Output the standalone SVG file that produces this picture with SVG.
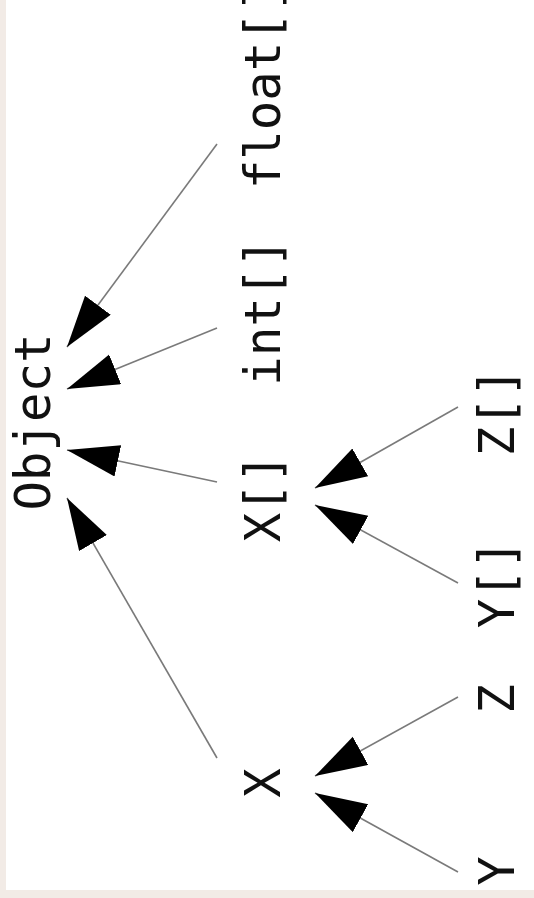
<svg xmlns="http://www.w3.org/2000/svg" width="534" height="898" viewBox="0 0 534 898">
<defs>
<style>
.lbl{font-family:"DejaVu Sans Mono","Liberation Mono",monospace;font-size:49px;fill:#111;text-anchor:middle}
.edge{stroke:#7a7a7a;stroke-width:1.6;fill:none;marker-end:url(#ah)}
</style>
<marker id="ah" markerUnits="userSpaceOnUse" markerWidth="54" markerHeight="34" refX="52" refY="16" orient="auto" viewBox="0 0 54 34">
<path d="M0,0 L52,16 L0,32 z" fill="#000"/>
</marker>
</defs>
<rect x="0" y="0" width="534" height="898" fill="#f2ebe6"/>
<rect x="6" y="0" width="528" height="890" fill="#fff"/>
<g id="connectors">
<line class="edge" x1="217" y1="144" x2="67" y2="347"/>
<line class="edge" x1="217" y1="328" x2="67" y2="389"/>
<line class="edge" x1="217" y1="482" x2="67" y2="450"/>
<line class="edge" x1="217" y1="758" x2="67" y2="498"/>
<line class="edge" x1="458" y1="407" x2="315" y2="488"/>
<line class="edge" x1="458" y1="583" x2="315" y2="505"/>
<line class="edge" x1="458" y1="697" x2="315" y2="776"/>
<line class="edge" x1="458" y1="872" x2="315" y2="793"/>
</g>
<g id="object"><text class="lbl" transform="translate(50,422) rotate(-90)">Object</text></g>
<g id="float-arr"><text class="lbl" transform="translate(280,86) rotate(-90)">float[]</text></g>
<g id="int-arr"><text class="lbl" transform="translate(280,312) rotate(-90)">int[]</text></g>
<g id="x-arr"><text class="lbl" transform="translate(280,498) rotate(-90)">X[]</text></g>
<g id="x"><text class="lbl" transform="translate(280,783) rotate(-90)">X</text></g>
<g id="z-arr"><text class="lbl" transform="translate(514,412) rotate(-90)">Z[]</text></g>
<g id="y-arr"><text class="lbl" transform="translate(514,584) rotate(-90)">Y[]</text></g>
<g id="z"><text class="lbl" transform="translate(514,699) rotate(-90)">Z</text></g>
<g id="y"><text class="lbl" transform="translate(514,871) rotate(-90)">Y</text></g>
</svg>
